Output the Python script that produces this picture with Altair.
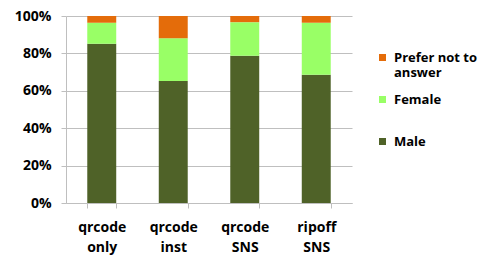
import altair as alt
import pandas as pd

categories = ["qrcode only", "qrcode inst", "qrcode SNS", "ripoff SNS"]
male = [85.2, 65.2, 78.8, 68.6]
female = [11.2, 22.9, 17.9, 27.8]
prefer_not = [3.6, 11.9, 3.3, 3.6]

groups = ["Prefer not to answer", "Female", "Male"]
colors = ["#E46C0A", "#99FF66", "#4F6228"]

rows = []
for i, c in enumerate(categories):
    rows.append({"cat": c, "group": "Male", "ord": 0, "value": male[i] / 100})
    rows.append({"cat": c, "group": "Female", "ord": 1, "value": female[i] / 100})
    rows.append({"cat": c, "group": "Prefer not to answer", "ord": 2, "value": prefer_not[i] / 100})
df = pd.DataFrame(rows)

FONT = "Open Sans"

legend_expr = (
    "datum.label == 'Prefer not to answer' ? ['Prefer not to', 'answer'] "
    ": [datum.label, '']"
)

chart = alt.Chart(df).mark_bar().encode(
    x=alt.X("cat:N", sort=categories, title=None,
            scale=alt.Scale(paddingInner=0.595, paddingOuter=0.2975),
            axis=alt.Axis(labelAngle=0, labelExpr="split(datum.label, ' ')",
                          labelLineHeight=20, tickBand="extent", tickSize=5,
                          tickColor="#BFBFBF", domainColor="#BFBFBF",
                          labelPadding=12, grid=False)),
    y=alt.Y("value:Q", stack="zero", title=None,
            scale=alt.Scale(domain=[0, 1]),
            axis=alt.Axis(values=[0, 0.2, 0.4, 0.6, 0.8, 1.0], format=".0%",
                          tickSize=5, tickColor="#BFBFBF", domainColor="#BFBFBF",
                          gridColor="#BFBFBF", labelPadding=10)),
    color=alt.Color("group:N", title=None,
                    scale=alt.Scale(domain=groups, range=colors),
                    legend=alt.Legend(orient="none", legendX=310, legendY=35,
                                      symbolType="square", symbolSize=49,
                                      symbolStrokeWidth=0, labelOffset=5,
                                      padding=0, rowPadding=13, labelLimit=200,
                                      labelExpr=legend_expr)),
    order=alt.Order("ord:Q", sort="ascending"),
).properties(
    width=286, height=187,
    autosize=alt.AutoSizeParams(type="none"),
    padding={"left": 58, "top": 8, "right": 127, "bottom": 52},
).configure_view(stroke=None).configure_axis(
    labelFont=FONT, labelFontSize=14, labelFontWeight="bold", labelColor="#000000",
).configure_legend(
    labelFont=FONT, labelFontSize=13, labelFontWeight="bold", labelColor="#000000",
)

chart.save("out.html", embed_options={"renderer": "svg", "actions": False})
